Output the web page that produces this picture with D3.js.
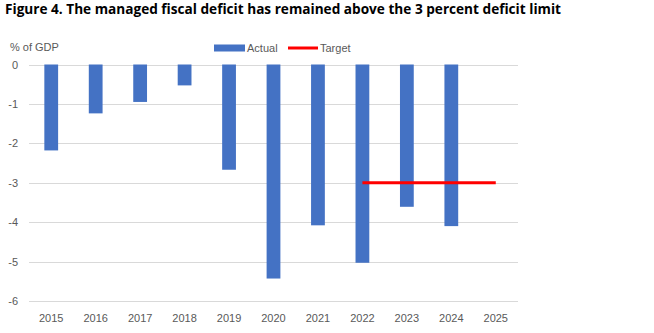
<!DOCTYPE html>
<html>
<head>
<meta charset="utf-8">
<script src="https://cdn.jsdelivr.net/npm/d3@7"></script>
<style>
  body { margin: 0; background: #fff; }
  text { font-family: "Liberation Sans", Arial, sans-serif; }
</style>
</head>
<body>
<div id="chart"></div>
<script>
var years = ["2015", "2016", "2017", "2018", "2019", "2020", "2021", "2022", "2023", "2024", "2025"];
var actual = [-2.18, -1.24, -0.95, -0.53, -2.67, -5.43, -4.08, -5.03, -3.61, -4.1, null];
var targetYears = ["2022", "2023", "2024", "2025"];
var target = [-3, -3, -3, -3];
var yTicks = [0, -1, -2, -3, -4, -5, -6];

var width = 654, height = 333;
var margin = {left: 29, right: 136, top: 64.5, bottom: 32};

var svg = d3.select("#chart").append("svg")
	.attr("width", width)
	.attr("height", height);

// title
svg.append("text")
	.attr("x", 5)
	.attr("y", 14)
	.attr("textLength", 556)
	.attr("lengthAdjust", "spacingAndGlyphs")
	.style("font-family", "'Open Sans', sans-serif")
	.style("font-weight", "bold")
	.style("font-size", "13.5px")
	.attr("fill", "#000")
	.text("Figure 4. The managed fiscal deficit has remained above the 3 percent deficit limit");

var x = d3.scaleBand()
	.domain(years)
	.range([margin.left, width - margin.right]);

var y = d3.scaleLinear()
	.domain([-6, 0])
	.range([height - margin.bottom, margin.top]);

// gridlines
svg.selectAll(".grid")
	.data(yTicks)
	.enter()
	.append("line")
	.attr("class", "grid")
	.attr("x1", margin.left)
	.attr("x2", width - margin.right)
	.attr("y1", function(d) { return Math.round(y(d)) + 0.5; })
	.attr("y2", function(d) { return Math.round(y(d)) + 0.5; })
	.style("stroke", "#d9d9d9")
	.style("stroke-width", 1);

// y tick labels
svg.selectAll(".ylab")
	.data(yTicks)
	.enter()
	.append("text")
	.attr("class", "ylab")
	.attr("x", 18)
	.attr("y", function(d) { return y(d) + 4; })
	.attr("text-anchor", "end")
	.style("font-size", "11px")
	.attr("fill", "#595959")
	.text(function(d) { return d; });

// x labels
svg.selectAll(".xlab")
	.data(years)
	.enter()
	.append("text")
	.attr("class", "xlab")
	.attr("x", function(d) { return x(d) + x.bandwidth() / 2; })
	.attr("y", 322)
	.attr("text-anchor", "middle")
	.style("font-size", "11px")
	.attr("fill", "#595959")
	.text(function(d) { return d; });

// unit label
svg.append("text")
	.attr("x", 10)
	.attr("y", 51)
	.style("font-size", "11px")
	.attr("fill", "#595959")
	.text("% of GDP");

// bars
var barW = x.bandwidth() * 0.31;
svg.selectAll(".bar")
	.data(years.map(function(d, i) { return {year: d, value: actual[i]}; })
		.filter(function(d) { return d.value != null; }))
	.enter()
	.append("rect")
	.attr("class", "bar")
	.attr("x", function(d) { return x(d.year) + (x.bandwidth() - barW) / 2; })
	.attr("width", barW)
	.attr("y", y(0))
	.attr("height", function(d) { return y(d.value) - y(0); })
	.attr("fill", "#4472c4");

// target line
var line = d3.line()
	.x(function(d) { return x(d.year) + x.bandwidth() / 2; })
	.y(function(d) { return y(d.value); });

svg.append("path")
	.datum(targetYears.map(function(d, i) { return {year: d, value: target[i]}; }))
	.attr("d", line)
	.attr("fill", "none")
	.style("stroke", "#ff0000")
	.style("stroke-width", 3);

// legend
var leg = svg.append("g").attr("transform", "translate(0,48)");
leg.append("rect")
	.attr("x", 214).attr("y", -3.5)
	.attr("width", 31).attr("height", 7)
	.attr("fill", "#4472c4");
leg.append("text")
	.attr("x", 247).attr("y", 4)
	.style("font-size", "11px")
	.attr("fill", "#595959")
	.text("Actual");
leg.append("line")
	.attr("x1", 288).attr("x2", 318)
	.attr("y1", 0).attr("y2", 0)
	.style("stroke", "#ff0000")
	.style("stroke-width", 3);
leg.append("text")
	.attr("x", 320).attr("y", 4)
	.style("font-size", "11px")
	.attr("fill", "#595959")
	.text("Target");
</script>
</body>
</html>
